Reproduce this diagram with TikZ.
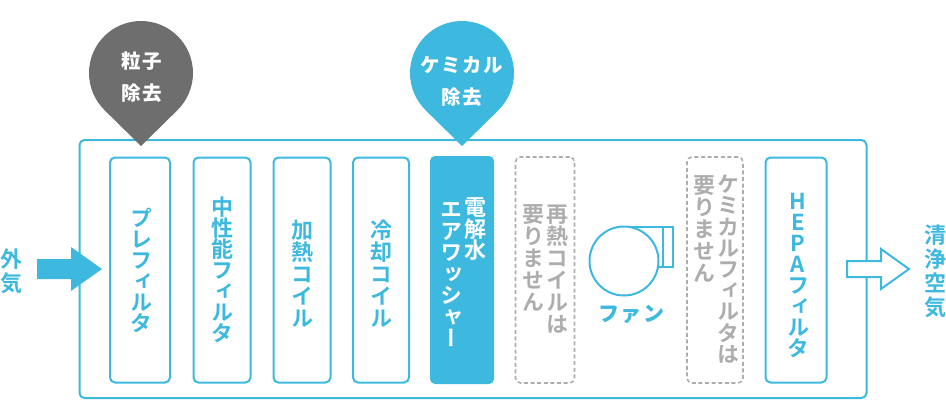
\documentclass[tikz,border=0pt]{standalone}
\usepackage{fontspec}
\setmainfont{Noto Sans CJK JP}
\newfontfamily\vfont[RawFeature=+vert,BoldFont={Noto Sans CJK JP Bold}]{Noto Sans CJK JP}
\newfontfamily\hfont{Noto Sans CJK JP}
\newfontfamily\hsfont[LetterSpace=8]{Noto Sans CJK JP}
\definecolor{bl}{HTML}{3DB8DE}
\definecolor{gy}{HTML}{6E6E6E}
\definecolor{lg}{HTML}{ADADAD}
\newlength{\vp}
\makeatletter
\newcommand{\vcol}[2]{\setlength{\vp}{#1}\vbox{\offinterlineskip\@tfor\cc:=#2\do{\hbox to 24pt{\hss\smash{\cc}\hss\vrule height .88\vp depth .12\vp width 0pt}}}}
\makeatother
\tikzset{
  boxb/.style={draw=bl,line width=2pt,rounded corners=5pt,inner sep=0pt,outer sep=0pt,minimum height=225pt},
  boxd/.style={draw=lg,line width=1.6pt,dash pattern=on 4pt off 2.6pt,rounded corners=5pt,inner sep=0pt,outer sep=0pt,minimum height=226pt},
  lab/.style={inner sep=0pt,outer sep=0pt,anchor=north},
  vb/.style={lab,text=bl,font=\vfont\fontsize{22pt}{22pt}\bfseries},
  vg/.style={lab,text=lg,font=\vfont\fontsize{22pt}{22pt}\bfseries},
  vw/.style={lab,text=white,font=\vfont\fontsize{22pt}{22pt}\bfseries},
  pinlab/.style={inner sep=0pt,outer sep=0pt,text=white,font=\hsfont\fontsize{19.5pt}{19.5pt}\selectfont\bfseries},
}
\begin{document}
\begin{tikzpicture}[x=1pt,y=-1pt]
\useasboundingbox (0,0) rectangle (946,400);
% outer frame
\node[boxb,minimum width=787pt,minimum height=258pt] (frame) at (473,269) {};
% boxes
\node[boxb,minimum width=60pt] (b1) at (140,270) {};
\node[boxb,minimum width=57pt] (b2) at (222,270) {};
\node[boxb,minimum width=57pt] (b3) at (302,270) {};
\node[boxb,minimum width=56pt] (b4) at (381,270) {};
\node[fill=bl,rounded corners=5pt,inner sep=0pt,outer sep=0pt,minimum width=64pt,minimum height=228pt] (b5) at (462,270) {};
\node[boxd,minimum width=59pt] (b6) at (545,270) {};
\node[boxd,minimum width=56pt] (b7) at (715,270) {};
\node[boxb,minimum width=61pt] (b8) at (796,270) {};
% pins
\fill[gy] (141,73) circle[radius=52] (141,146) -- (104.2,109.8) -- (177.8,109.8) -- cycle;
\fill[bl] (462,73) circle[radius=52] (462,146) -- (425.2,109.8) -- (498.8,109.8) -- cycle;
\node[pinlab] (p1a) at (142,61) {粒子};
\node[pinlab] (p1b) at (142,93) {除去};
\node[pinlab] (p2a) at (462,65) {ケミカル};
\node[pinlab] (p2b) at (462,97) {除去};
% arrows
\fill[bl] (37,259) -- (71,259) -- (71,247) -- (102,269) -- (71,291) -- (71,279) -- (37,279) -- cycle;
\draw[bl,line width=2pt,fill=white,miter limit=6] (847,261) -- (881,261) -- (881,249) -- (909,269) -- (881,289) -- (881,277) -- (847,277) -- cycle;
% fan
\draw[bl,line width=2pt] (628,227) -- (673,227) -- (673,267) -- (659,267) (663,227) -- (663,267);
\draw[bl,line width=2pt,fill=white] (624,261) circle[radius=34.5];
% labels
\node[vb] (t0) at (12,246) {\vcol{24pt}{外気}};
\node[vb] (t1) at (141,208) {\vcol{21pt}{プレフィルタ}};
\node[vb] (t2) at (222,197) {\vcol{21pt}{中性能フィルタ}};
\node[vb] (t3) at (302,219) {\vcol{22pt}{加熱コイル}};
\node[vb] (t4) at (381,219) {\vcol{22pt}{冷却コイル}};
\node[vw] (t5a) at (475,197) {\vcol{21.5pt}{電解水}};
\node[vw] (t5b) at (451,199) {\vcol{21.5pt}{エアワッシャー}};
\node[vg] (t6a) at (557,203) {\vcol{22pt}{再熱コイルは}};
\node[vg] (t6b) at (533,203) {\vcol{22pt}{要りません}};
\node[vg] (t7a) at (728,174) {\vcol{21.2pt}{ケミカルフィルタは}};
\node[vg] (t7b) at (704,174) {\vcol{22pt}{要りません}};
\node[vb] (t8) at (798,191) {\vcol{21pt}{HEPAフィルタ}};
\node[vb] (t9) at (935,222) {\vcol{24pt}{清浄空気}};
\node[inner sep=0pt,text=bl,font=\hfont\fontsize{21pt}{21pt}\selectfont\bfseries,text width=70pt,align=center] (fan) at (631.5,314) {フ\kern2ptァ\kern2ptン};
\end{tikzpicture}
\end{document}
